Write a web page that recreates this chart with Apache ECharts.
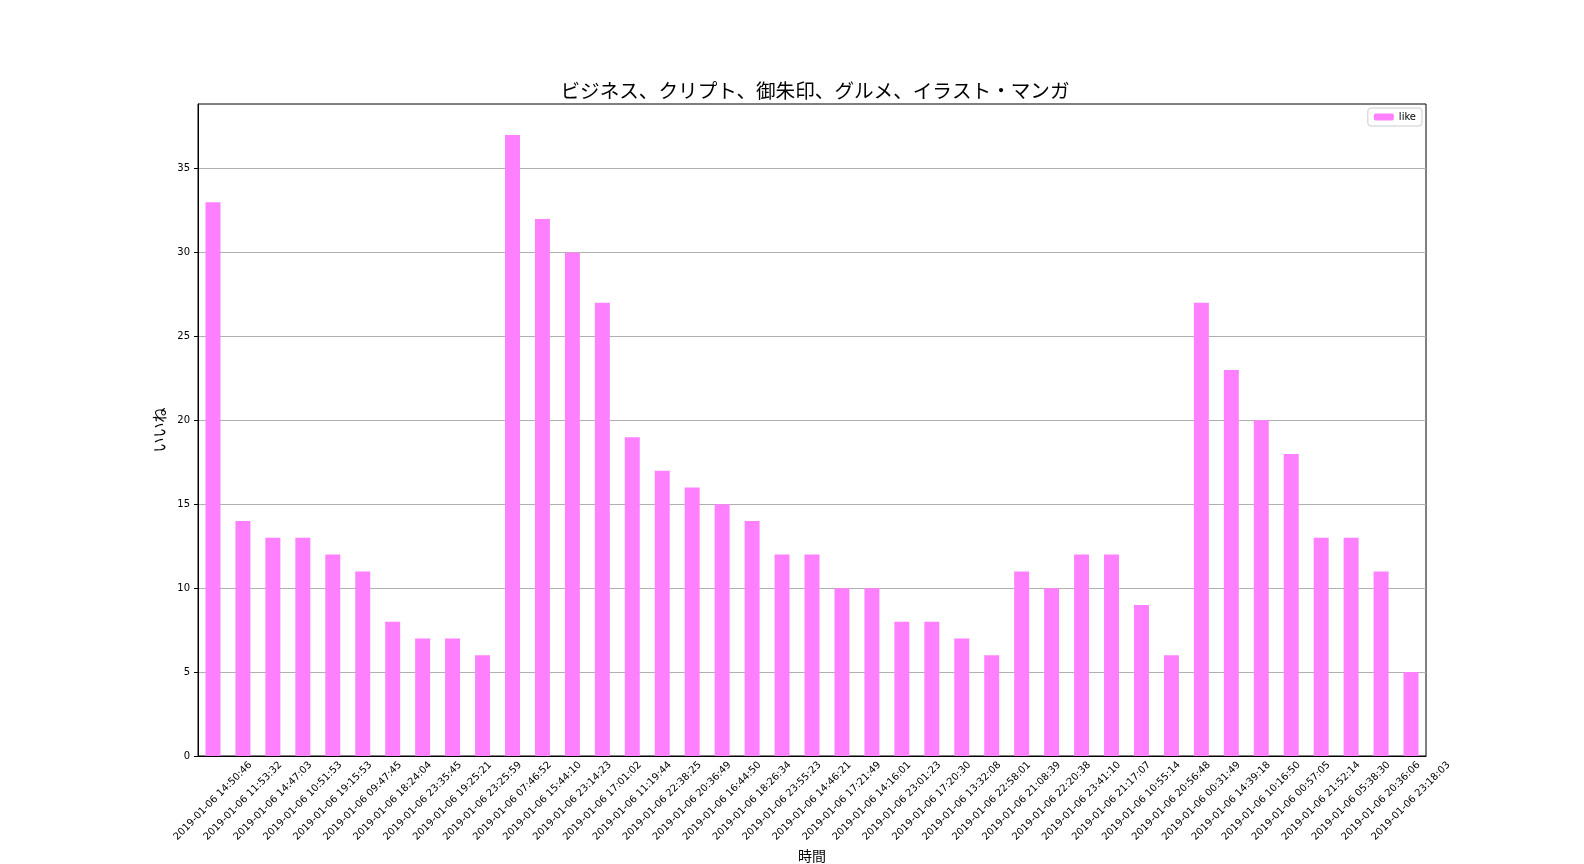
<!DOCTYPE html>
<html>
<head>
<meta charset="utf-8">
<script src="https://cdn.jsdelivr.net/npm/echarts@6/dist/echarts.min.js"></script>
<style>html,body{margin:0;padding:0;background:#fff}#c{width:1584px;height:864px}</style>
</head>
<body>
<div id="c"></div>
<script>
const categories = [
"2019-01-06 14:50:46","2019-01-06 11:53:32","2019-01-06 14:47:03","2019-01-06 10:51:53","2019-01-06 19:15:53",
"2019-01-06 09:47:45","2019-01-06 18:24:04","2019-01-06 23:35:45","2019-01-06 19:25:21","2019-01-06 23:25:59",
"2019-01-06 07:46:52","2019-01-06 15:44:10","2019-01-06 23:14:23","2019-01-06 17:01:02","2019-01-06 11:19:44",
"2019-01-06 22:38:25","2019-01-06 20:36:49","2019-01-06 16:44:50","2019-01-06 18:26:34","2019-01-06 23:55:23",
"2019-01-06 14:46:21","2019-01-06 17:21:49","2019-01-06 14:16:01","2019-01-06 23:01:23","2019-01-06 17:20:30",
"2019-01-06 13:32:08","2019-01-06 22:58:01","2019-01-06 21:08:39","2019-01-06 22:20:38","2019-01-06 23:41:10",
"2019-01-06 21:17:07","2019-01-06 10:55:14","2019-01-06 20:56:48","2019-01-06 00:31:49","2019-01-06 14:39:18",
"2019-01-06 10:16:50","2019-01-06 00:57:05","2019-01-06 21:52:14","2019-01-06 05:38:30","2019-01-06 20:36:06",
"2019-01-06 23:18:03"
];
const likeValues = [33,14,13,13,12,11,8,7,7,6,37,32,30,27,19,17,16,15,14,12,12,10,10,8,8,7,6,11,10,12,12,9,6,27,23,20,18,13,13,11,5];
const yTicks = [0,5,10,15,20,25,30,35];
const seriesName = "like";
const titleText = "ビジネス、クリプト、御朱印、グルメ、イラスト・マンガ";
const xAxisName = "時間";
const yAxisName = "いいね";

const FONT = '"Noto Sans CJK JP", "DejaVu Sans", sans-serif';
const TICKFONT = '"DejaVu Sans", sans-serif';
const chart = echarts.init(document.getElementById('c'));
chart.setOption({
  animation: false,
  textStyle: {fontFamily: FONT},
  title: {
    text: titleText, left: 810, textAlign: 'center', top: 76,
    textStyle: {fontFamily: FONT, fontSize: 19.6, fontWeight: 'normal', color: '#000'}
  },
  legend: {
    data: [seriesName], right: 162, top: 108,
    itemWidth: 20, itemHeight: 7, itemGap: 5,
    padding: [4, 6, 4, 6],
    borderColor: '#ccc', borderWidth: 1, borderRadius: 3,
    backgroundColor: '#fff',
    textStyle: {fontFamily: TICKFONT, fontSize: 10, color: '#000'}
  },
  grid: {
    left: 198, right: 158, top: 104, bottom: 108,
    show: true, borderColor: '#000', borderWidth: 1,
    containLabel: false, outerBoundsMode: 'none'
  },
  xAxis: {
    type: 'category', data: categories,
    name: xAxisName, nameLocation: 'middle', nameGap: 86,
    nameTextStyle: {fontFamily: FONT, fontSize: 14, color: '#000'},
    axisLine: {lineStyle: {color: '#000', width: 1}},
    axisTick: {alignWithLabel: true, length: 4, lineStyle: {color: '#000'}},
    axisLabel: {rotate: 45, align: 'center', verticalAlign: 'middle', fontSize: 10, color: '#000',
      interval: 0, margin: 45, fontFamily: TICKFONT, hideOverlap: false},
    splitLine: {show: false}
  },
  yAxis: {
    type: 'value', min: 0, max: 38.85,
    name: yAxisName, nameLocation: 'middle', nameGap: 24, nameRotate: 90,
    nameTextStyle: {fontFamily: FONT, fontSize: 15, color: '#000'},
    axisLine: {show: true, lineStyle: {color: '#000', width: 1}},
    axisTick: {show: true, length: 4, lineStyle: {color: '#000'}, customValues: yTicks},
    axisLabel: {fontSize: 10, color: '#000', margin: 8, fontFamily: TICKFONT, customValues: yTicks},
    splitLine: {show: true, lineStyle: {color: '#b0b0b0', width: 1}}
  },
  series: [{
    name: seriesName, type: 'bar', data: likeValues,
    barWidth: '50%',
    itemStyle: {color: '#FF80FF'}
  }]
});
</script>
</body>
</html>
